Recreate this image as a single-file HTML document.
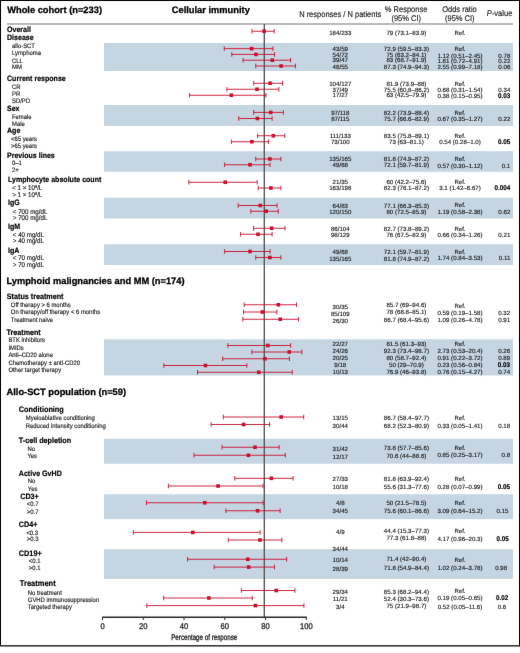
<!DOCTYPE html>
<html><head><meta charset="utf-8"><title>Forest plot</title>
<style>
html,body{margin:0;padding:0;background:#fff;}
body{width:520px;height:653px;overflow:hidden;}
svg{display:block;font-family:"Liberation Sans", sans-serif;-webkit-font-smoothing:antialiased;will-change:transform;text-rendering:geometricPrecision;}
</style></head>
<body>
<svg width="520" height="653" viewBox="0 0 520 653" font-family='"Liberation Sans", sans-serif'>
<defs><filter id="bl" color-interpolation-filters="sRGB" x="0" y="0" width="520" height="653" filterUnits="userSpaceOnUse"><feConvolveMatrix order="3" kernelMatrix="0.0028 0.0470 0.0028 0.0470 0.8008 0.0470 0.0028 0.0470 0.0028" edgeMode="duplicate"/></filter></defs>
<g filter="url(#bl)">
<rect width="520" height="653" fill="#fff"/>
<rect x="104" y="43" width="409" height="28.00" fill="#c5d5e2"/>
<rect x="104" y="105" width="409" height="21.00" fill="#c5d5e2"/>
<rect x="104" y="151.25" width="409" height="20.50" fill="#c5d5e2"/>
<rect x="104" y="197.75" width="409" height="20.75" fill="#c5d5e2"/>
<rect x="104" y="244.25" width="409" height="20.75" fill="#c5d5e2"/>
<rect x="104" y="339.3" width="409" height="36.20" fill="#c5d5e2"/>
<rect x="104" y="438.75" width="409" height="25.00" fill="#c5d5e2"/>
<rect x="104" y="494.25" width="409" height="24.95" fill="#c5d5e2"/>
<rect x="104" y="549.25" width="409" height="29.75" fill="#c5d5e2"/>
<rect x="7" y="23" width="506" height="2" fill="#bababa"/>
<text x="7.2" y="13.1" font-size="9.3" font-weight="bold" stroke="#000" stroke-width="0.28" fill="#000">Whole cohort (n=233)</text>
<text x="171.8" y="13.1" font-size="9.3" font-weight="bold" stroke="#000" stroke-width="0.28" fill="#000">Cellular immunity</text>
<text x="6.4" y="283.6" font-size="9.3" font-weight="bold" stroke="#000" stroke-width="0.28" fill="#000">Lymphoid malignancies and MM (n=174)</text>
<text x="6.5" y="395.3" font-size="9.3" font-weight="bold" stroke="#000" stroke-width="0.28" fill="#000">Allo-SCT population (n=59)</text>
<text x="340.2" y="16.8" font-size="7.5" stroke="#1a1a1a" stroke-width="0.14" text-anchor="middle" fill="#1a1a1a" transform="matrix(1 0 0 1.1 0 -1.680)">N responses / N patients</text>
<text x="406.1" y="11.5" font-size="7.5" stroke="#1a1a1a" stroke-width="0.14" text-anchor="middle" fill="#1a1a1a" transform="matrix(1 0 0 1.1 0 -1.150)">% Response</text>
<text x="406.2" y="21.1" font-size="7.5" stroke="#1a1a1a" stroke-width="0.14" text-anchor="middle" fill="#1a1a1a" transform="matrix(1 0 0 1.1 0 -2.110)">(95% CI)</text>
<text x="459.5" y="11.6" font-size="7.5" stroke="#1a1a1a" stroke-width="0.14" text-anchor="middle" fill="#1a1a1a" transform="matrix(1 0 0 1.1 0 -1.160)">Odds ratio</text>
<text x="459.8" y="21.1" font-size="7.5" stroke="#1a1a1a" stroke-width="0.14" text-anchor="middle" fill="#1a1a1a" transform="matrix(1 0 0 1.1 0 -2.110)">(95% CI)</text>
<text x="499.6" y="16.15" font-size="7.5" text-anchor="middle" fill="#1a1a1a" stroke="#1a1a1a" stroke-width="0.14" transform="matrix(1 0 0 1.1 0 -1.615)"><tspan font-style="italic">P</tspan>-value</text>
<text x="7" y="31.7" font-size="7.05" font-weight="bold" stroke="#000" stroke-width="0.16" fill="#000" transform="matrix(1 0 0 1.1 0 -3.170)">Overall</text>
<text x="7" y="39.6" font-size="7.05" font-weight="bold" stroke="#000" stroke-width="0.16" fill="#000" transform="matrix(1 0 0 1.1 0 -3.960)">Disease</text>
<text x="12" y="47.5" font-size="5.9" stroke="#1a1a1a" stroke-width="0.14" fill="#1a1a1a" transform="matrix(1 0 0 1.1 0 -4.750)">allo-SCT</text>
<text x="12" y="55.2" font-size="5.9" stroke="#1a1a1a" stroke-width="0.14" fill="#1a1a1a" transform="matrix(1 0 0 1.1 0 -5.520)">Lymphoma</text>
<text x="12" y="62.55" font-size="5.9" stroke="#1a1a1a" stroke-width="0.14" fill="#1a1a1a" transform="matrix(1 0 0 1.1 0 -6.255)">CLL</text>
<text x="12" y="69.3" font-size="5.9" stroke="#1a1a1a" stroke-width="0.14" fill="#1a1a1a" transform="matrix(1 0 0 1.1 0 -6.930)">MM</text>
<text x="7" y="81.3" font-size="7.05" font-weight="bold" stroke="#000" stroke-width="0.16" fill="#000" transform="matrix(1 0 0 1.1 0 -8.130)">Current response</text>
<text x="12" y="88.7" font-size="5.9" stroke="#1a1a1a" stroke-width="0.14" fill="#1a1a1a" transform="matrix(1 0 0 1.1 0 -8.870)">CR</text>
<text x="12" y="96.1" font-size="5.9" stroke="#1a1a1a" stroke-width="0.14" fill="#1a1a1a" transform="matrix(1 0 0 1.1 0 -9.610)">PR</text>
<text x="12" y="103.3" font-size="5.9" stroke="#1a1a1a" stroke-width="0.14" fill="#1a1a1a" transform="matrix(1 0 0 1.1 0 -10.330)">SD/PD</text>
<text x="7" y="111.3" font-size="7.05" font-weight="bold" stroke="#000" stroke-width="0.16" fill="#000" transform="matrix(1 0 0 1.1 0 -11.130)">Sex</text>
<text x="12" y="119.1" font-size="5.9" stroke="#1a1a1a" stroke-width="0.14" fill="#1a1a1a" transform="matrix(1 0 0 1.1 0 -11.910)">Female</text>
<text x="12" y="126.3" font-size="5.9" stroke="#1a1a1a" stroke-width="0.14" fill="#1a1a1a" transform="matrix(1 0 0 1.1 0 -12.630)">Male</text>
<text x="7" y="133.3" font-size="7.05" font-weight="bold" stroke="#000" stroke-width="0.16" fill="#000" transform="matrix(1 0 0 1.1 0 -13.330)">Age</text>
<text x="11" y="141.3" font-size="5.9" stroke="#1a1a1a" stroke-width="0.14" fill="#1a1a1a" transform="matrix(1 0 0 1.1 0 -14.130)">&lt;65 years</text>
<text x="11" y="148.1" font-size="5.9" stroke="#1a1a1a" stroke-width="0.14" fill="#1a1a1a" transform="matrix(1 0 0 1.1 0 -14.810)">&gt;65 years</text>
<text x="7" y="158.1" font-size="7.05" font-weight="bold" stroke="#000" stroke-width="0.16" fill="#000" transform="matrix(1 0 0 1.1 0 -15.810)">Previous lines</text>
<text x="12" y="164.9" font-size="5.9" stroke="#1a1a1a" stroke-width="0.14" fill="#1a1a1a" transform="matrix(1 0 0 1.1 0 -16.490)">0–1</text>
<text x="12" y="172.1" font-size="5.9" stroke="#1a1a1a" stroke-width="0.14" fill="#1a1a1a" transform="matrix(1 0 0 1.1 0 -17.210)">2+</text>
<text x="8" y="181.7" font-size="7.05" font-weight="bold" stroke="#000" stroke-width="0.16" fill="#000" transform="matrix(1 0 0 1.1 0 -18.170)">Lymphocyte absolute count</text>
<text x="12.2" y="190.4" font-size="6.2" stroke="#1a1a1a" stroke-width="0.14" fill="#1a1a1a" transform="matrix(1 0 0 1.1 0 -19.040)">&lt; 1 × 10<tspan dy="-2" font-size="4">9</tspan><tspan dy="2">/L</tspan></text>
<text x="12.2" y="197.3" font-size="6.2" stroke="#1a1a1a" stroke-width="0.14" fill="#1a1a1a" transform="matrix(1 0 0 1.1 0 -19.730)">&gt; 1 × 10<tspan dy="-2" font-size="4">9</tspan><tspan dy="2">/L</tspan></text>
<text x="8" y="205.3" font-size="7.05" font-weight="bold" stroke="#000" stroke-width="0.16" fill="#000" transform="matrix(1 0 0 1.1 0 -20.530)">IgG</text>
<text x="12.8" y="213.7" font-size="6.2" stroke="#1a1a1a" stroke-width="0.14" fill="#1a1a1a" transform="matrix(1 0 0 1.1 0 -21.370)">&lt; 700 mg/dL</text>
<text x="12.8" y="220.3" font-size="6.2" stroke="#1a1a1a" stroke-width="0.14" fill="#1a1a1a" transform="matrix(1 0 0 1.1 0 -22.030)">&gt; 700 mg/dL</text>
<text x="8" y="229.1" font-size="7.05" font-weight="bold" stroke="#000" stroke-width="0.16" fill="#000" transform="matrix(1 0 0 1.1 0 -22.910)">IgM</text>
<text x="12.8" y="236.7" font-size="6.2" stroke="#1a1a1a" stroke-width="0.14" fill="#1a1a1a" transform="matrix(1 0 0 1.1 0 -23.670)">&lt; 40 mg/dL</text>
<text x="12.8" y="243.3" font-size="6.2" stroke="#1a1a1a" stroke-width="0.14" fill="#1a1a1a" transform="matrix(1 0 0 1.1 0 -24.330)">&gt; 40 mg/dL</text>
<text x="8" y="252.7" font-size="7.05" font-weight="bold" stroke="#000" stroke-width="0.16" fill="#000" transform="matrix(1 0 0 1.1 0 -25.270)">IgA</text>
<text x="12.8" y="260.3" font-size="6.2" stroke="#1a1a1a" stroke-width="0.14" fill="#1a1a1a" transform="matrix(1 0 0 1.1 0 -26.030)">&lt; 70 mg/dL</text>
<text x="12.8" y="267.3" font-size="6.2" stroke="#1a1a1a" stroke-width="0.14" fill="#1a1a1a" transform="matrix(1 0 0 1.1 0 -26.730)">&gt; 70 mg/dL</text>
<text x="6.8" y="298.7" font-size="7.2" font-weight="bold" stroke="#000" stroke-width="0.16" fill="#000" transform="matrix(1 0 0 1.1 0 -29.870)">Status treatment</text>
<text x="10.8" y="306.7" font-size="5.9" stroke="#1a1a1a" stroke-width="0.14" fill="#1a1a1a" transform="matrix(1 0 0 1.1 0 -30.670)">Off therapy &gt; 6 months</text>
<text x="10.8" y="314.1" font-size="5.9" stroke="#1a1a1a" stroke-width="0.14" fill="#1a1a1a" transform="matrix(1 0 0 1.1 0 -31.410)">On therapy/off therapy &lt; 6 months</text>
<text x="10.8" y="321.7" font-size="5.9" stroke="#1a1a1a" stroke-width="0.14" fill="#1a1a1a" transform="matrix(1 0 0 1.1 0 -32.170)">Treatment naive</text>
<text x="6.6" y="334.7" font-size="7.15" font-weight="bold" stroke="#000" stroke-width="0.16" fill="#000" transform="matrix(1 0 0 1.1 0 -33.470)">Treatment</text>
<text x="8.4" y="342.3" font-size="5.9" stroke="#1a1a1a" stroke-width="0.14" fill="#1a1a1a" transform="matrix(1 0 0 1.1 0 -34.230)">BTK inhibitors</text>
<text x="8.4" y="349.7" font-size="5.9" stroke="#1a1a1a" stroke-width="0.14" fill="#1a1a1a" transform="matrix(1 0 0 1.1 0 -34.970)">IMIDs</text>
<text x="8.4" y="357.1" font-size="5.9" stroke="#1a1a1a" stroke-width="0.14" fill="#1a1a1a" transform="matrix(1 0 0 1.1 0 -35.710)">Anti–CD20 alone</text>
<text x="8.4" y="364.7" font-size="5.9" stroke="#1a1a1a" stroke-width="0.14" fill="#1a1a1a" transform="matrix(1 0 0 1.1 0 -36.470)">Chemotherapy ± anti-CD20</text>
<text x="8.4" y="372.3" font-size="5.9" stroke="#1a1a1a" stroke-width="0.14" fill="#1a1a1a" transform="matrix(1 0 0 1.1 0 -37.230)">Other target therapy</text>
<text x="18.8" y="411.7" font-size="7.3" font-weight="bold" stroke="#000" stroke-width="0.16" fill="#000" transform="matrix(1 0 0 1.1 0 -41.170)">Conditioning</text>
<text x="25.8" y="420.1" font-size="5.9" stroke="#1a1a1a" stroke-width="0.14" fill="#1a1a1a" transform="matrix(1 0 0 1.1 0 -42.010)">Myeloablative conditioning</text>
<text x="25.8" y="427.7" font-size="5.9" stroke="#1a1a1a" stroke-width="0.14" fill="#1a1a1a" transform="matrix(1 0 0 1.1 0 -42.770)">Reduced intensity conditioning</text>
<text x="18.8" y="443.1" font-size="7.2" font-weight="bold" stroke="#000" stroke-width="0.16" fill="#000" transform="matrix(1 0 0 1.1 0 -44.310)">T-cell depletion</text>
<text x="27.4" y="450.7" font-size="5.9" stroke="#1a1a1a" stroke-width="0.14" fill="#1a1a1a" transform="matrix(1 0 0 1.1 0 -45.070)">No</text>
<text x="27.4" y="457.7" font-size="5.9" stroke="#1a1a1a" stroke-width="0.14" fill="#1a1a1a" transform="matrix(1 0 0 1.1 0 -45.770)">Yes</text>
<text x="18.8" y="475.7" font-size="7.1" font-weight="bold" stroke="#000" stroke-width="0.16" fill="#000" transform="matrix(1 0 0 1.1 0 -47.570)">Active GvHD</text>
<text x="27.8" y="483.1" font-size="5.9" stroke="#1a1a1a" stroke-width="0.14" fill="#1a1a1a" transform="matrix(1 0 0 1.1 0 -48.310)">No</text>
<text x="27.8" y="490.7" font-size="5.9" stroke="#1a1a1a" stroke-width="0.14" fill="#1a1a1a" transform="matrix(1 0 0 1.1 0 -49.070)">Yes</text>
<text x="20.2" y="499.3" font-size="7.2" font-weight="bold" stroke="#000" stroke-width="0.16" fill="#000" transform="matrix(1 0 0 1.1 0 -49.930)">CD3+</text>
<text x="26.8" y="506.3" font-size="5.9" stroke="#1a1a1a" stroke-width="0.14" fill="#1a1a1a" transform="matrix(1 0 0 1.1 0 -50.630)">&lt;0.7</text>
<text x="26.8" y="513.7" font-size="5.9" stroke="#1a1a1a" stroke-width="0.14" fill="#1a1a1a" transform="matrix(1 0 0 1.1 0 -51.370)">&gt;0.7</text>
<text x="18.8" y="526.7" font-size="7.2" font-weight="bold" stroke="#000" stroke-width="0.16" fill="#000" transform="matrix(1 0 0 1.1 0 -52.670)">CD4+</text>
<text x="26.4" y="534.7" font-size="5.9" stroke="#1a1a1a" stroke-width="0.14" fill="#1a1a1a" transform="matrix(1 0 0 1.1 0 -53.470)">&lt;0.3</text>
<text x="26.8" y="541.3" font-size="5.9" stroke="#1a1a1a" stroke-width="0.14" fill="#1a1a1a" transform="matrix(1 0 0 1.1 0 -54.130)">&gt;0.3</text>
<text x="18.8" y="555.5" font-size="7.3" font-weight="bold" stroke="#000" stroke-width="0.16" fill="#000" transform="matrix(1 0 0 1.1 0 -55.550)">CD19+</text>
<text x="28.8" y="563.1" font-size="5.9" stroke="#1a1a1a" stroke-width="0.14" fill="#1a1a1a" transform="matrix(1 0 0 1.1 0 -56.310)">&lt;0.1</text>
<text x="28.8" y="570.1" font-size="5.9" stroke="#1a1a1a" stroke-width="0.14" fill="#1a1a1a" transform="matrix(1 0 0 1.1 0 -57.010)">&gt;0.1</text>
<text x="19.8" y="586.3" font-size="7.5" font-weight="bold" stroke="#000" stroke-width="0.16" fill="#000" transform="matrix(1 0 0 1.1 0 -58.630)">Treatment</text>
<text x="27.8" y="595.1" font-size="5.9" stroke="#1a1a1a" stroke-width="0.14" fill="#1a1a1a" transform="matrix(1 0 0 1.1 0 -59.510)">No treatment</text>
<text x="27.8" y="602.3" font-size="5.9" stroke="#1a1a1a" stroke-width="0.14" fill="#1a1a1a" transform="matrix(1 0 0 1.1 0 -60.230)">GVHD immunosuppression</text>
<text x="27.8" y="608.7" font-size="5.9" stroke="#1a1a1a" stroke-width="0.14" fill="#1a1a1a" transform="matrix(1 0 0 1.1 0 -60.870)">Targeted therapy</text>
<rect x="263.6" y="24" width="1.4" height="593.5" fill="#5a5a5a"/>
<path d="M252.06 31.25H274.16M252.06 28.95v4.6M274.16 28.95v4.6" stroke="#c8102e" stroke-width="0.9" fill="none"/>
<rect x="262.33" y="29.45" width="3.6" height="3.6" fill="#c8102e"/>
<path d="M224.24 48.65H272.93M224.24 46.35v4.6M272.93 46.35v4.6" stroke="#c8102e" stroke-width="0.9" fill="none"/>
<rect x="249.85" y="46.85" width="3.6" height="3.6" fill="#c8102e"/>
<path d="M231.81 54.4H274.57M231.81 52.10v4.6M274.57 52.10v4.6" stroke="#c8102e" stroke-width="0.9" fill="none"/>
<rect x="254.15" y="52.60" width="3.6" height="3.6" fill="#c8102e"/>
<path d="M243.06 60.2H290.53M243.06 57.90v4.6M290.53 57.90v4.6" stroke="#c8102e" stroke-width="0.9" fill="none"/>
<rect x="270.52" y="58.40" width="3.6" height="3.6" fill="#c8102e"/>
<path d="M255.75 66.0H295.44M255.75 63.70v4.6M295.44 63.70v4.6" stroke="#c8102e" stroke-width="0.9" fill="none"/>
<rect x="279.32" y="64.20" width="3.6" height="3.6" fill="#c8102e"/>
<path d="M253.70 83.25H282.55M253.70 80.95v4.6M282.55 80.95v4.6" stroke="#c8102e" stroke-width="0.9" fill="none"/>
<rect x="268.27" y="81.45" width="3.6" height="3.6" fill="#c8102e"/>
<path d="M226.90 89.25H278.87M226.90 86.95v4.6M278.87 86.95v4.6" stroke="#c8102e" stroke-width="0.9" fill="none"/>
<rect x="255.17" y="87.45" width="3.6" height="3.6" fill="#c8102e"/>
<path d="M189.45 95.25H265.98M189.45 92.95v4.6M265.98 92.95v4.6" stroke="#c8102e" stroke-width="0.9" fill="none"/>
<rect x="229.60" y="93.45" width="3.6" height="3.6" fill="#c8102e"/>
<path d="M253.70 112.4H283.37M253.70 110.10v4.6M283.37 110.10v4.6" stroke="#c8102e" stroke-width="0.9" fill="none"/>
<rect x="268.88" y="110.60" width="3.6" height="3.6" fill="#c8102e"/>
<path d="M238.76 118.5H272.11M238.76 116.20v4.6M272.11 116.20v4.6" stroke="#c8102e" stroke-width="0.9" fill="none"/>
<rect x="255.58" y="116.70" width="3.6" height="3.6" fill="#c8102e"/>
<path d="M257.59 135.75H284.80M257.59 133.45v4.6M284.80 133.45v4.6" stroke="#c8102e" stroke-width="0.9" fill="none"/>
<rect x="271.54" y="133.95" width="3.6" height="3.6" fill="#c8102e"/>
<path d="M231.40 141.75H268.43M231.40 139.45v4.6M268.43 139.45v4.6" stroke="#c8102e" stroke-width="0.9" fill="none"/>
<rect x="250.06" y="139.95" width="3.6" height="3.6" fill="#c8102e"/>
<path d="M255.75 159H280.91M255.75 156.70v4.6M280.91 156.70v4.6" stroke="#c8102e" stroke-width="0.9" fill="none"/>
<rect x="268.06" y="157.20" width="3.6" height="3.6" fill="#c8102e"/>
<path d="M224.65 164.75H270.07M224.65 162.45v4.6M270.07 162.45v4.6" stroke="#c8102e" stroke-width="0.9" fill="none"/>
<rect x="248.22" y="162.95" width="3.6" height="3.6" fill="#c8102e"/>
<path d="M188.84 182.25H257.18M188.84 179.95v4.6M257.18 179.95v4.6" stroke="#c8102e" stroke-width="0.9" fill="none"/>
<rect x="223.46" y="180.45" width="3.6" height="3.6" fill="#c8102e"/>
<path d="M258.20 188H280.91M258.20 185.70v4.6M280.91 185.70v4.6" stroke="#c8102e" stroke-width="0.9" fill="none"/>
<rect x="269.09" y="186.20" width="3.6" height="3.6" fill="#c8102e"/>
<path d="M238.15 205.5H277.02M238.15 203.20v4.6M277.02 203.20v4.6" stroke="#c8102e" stroke-width="0.9" fill="none"/>
<rect x="258.45" y="203.70" width="3.6" height="3.6" fill="#c8102e"/>
<path d="M250.83 211.25H278.25M250.83 208.95v4.6M278.25 208.95v4.6" stroke="#c8102e" stroke-width="0.9" fill="none"/>
<rect x="264.38" y="209.45" width="3.6" height="3.6" fill="#c8102e"/>
<path d="M253.49 228.25H285.00M253.49 225.95v4.6M285.00 225.95v4.6" stroke="#c8102e" stroke-width="0.9" fill="none"/>
<rect x="269.90" y="226.45" width="3.6" height="3.6" fill="#c8102e"/>
<path d="M240.60 234.25H272.11M240.60 231.95v4.6M272.11 231.95v4.6" stroke="#c8102e" stroke-width="0.9" fill="none"/>
<rect x="256.20" y="232.45" width="3.6" height="3.6" fill="#c8102e"/>
<path d="M224.65 251.5H270.07M224.65 249.20v4.6M270.07 249.20v4.6" stroke="#c8102e" stroke-width="0.9" fill="none"/>
<rect x="248.22" y="249.70" width="3.6" height="3.6" fill="#c8102e"/>
<path d="M255.75 257.5H280.91M255.75 255.20v4.6M280.91 255.20v4.6" stroke="#c8102e" stroke-width="0.9" fill="none"/>
<rect x="268.06" y="255.70" width="3.6" height="3.6" fill="#c8102e"/>
<path d="M244.17 304.75H296.55M244.17 302.45v4.6M296.55 302.45v4.6" stroke="#c8102e" stroke-width="0.9" fill="none"/>
<rect x="276.54" y="302.95" width="3.6" height="3.6" fill="#c8102e"/>
<path d="M243.56 312H276.91M243.56 309.70v4.6M276.91 309.70v4.6" stroke="#c8102e" stroke-width="0.9" fill="none"/>
<rect x="260.59" y="310.20" width="3.6" height="3.6" fill="#c8102e"/>
<path d="M242.85 319.25H298.50M242.85 316.95v4.6M298.50 316.95v4.6" stroke="#c8102e" stroke-width="0.9" fill="none"/>
<rect x="278.49" y="317.45" width="3.6" height="3.6" fill="#c8102e"/>
<path d="M227.84 345.5H290.63M227.84 343.20v4.6M290.63 343.20v4.6" stroke="#c8102e" stroke-width="0.9" fill="none"/>
<rect x="266.05" y="343.70" width="3.6" height="3.6" fill="#c8102e"/>
<path d="M251.81 352H301.92M251.81 349.70v4.6M301.92 349.70v4.6" stroke="#c8102e" stroke-width="0.9" fill="none"/>
<rect x="287.45" y="350.20" width="3.6" height="3.6" fill="#c8102e"/>
<path d="M222.68 358.75H289.44M222.68 356.45v4.6M289.44 356.45v4.6" stroke="#c8102e" stroke-width="0.9" fill="none"/>
<rect x="263.08" y="356.95" width="3.6" height="3.6" fill="#c8102e"/>
<path d="M163.85 365.5H246.85M163.85 363.20v4.6M246.85 363.20v4.6" stroke="#c8102e" stroke-width="0.9" fill="none"/>
<rect x="203.65" y="363.70" width="3.6" height="3.6" fill="#c8102e"/>
<path d="M197.53 372.25H292.22M197.53 369.95v4.6M292.22 369.95v4.6" stroke="#c8102e" stroke-width="0.9" fill="none"/>
<rect x="256.94" y="370.45" width="3.6" height="3.6" fill="#c8102e"/>
<path d="M223.29 417H303.69M223.29 414.70v4.6M303.69 414.70v4.6" stroke="#c8102e" stroke-width="0.9" fill="none"/>
<rect x="279.39" y="415.20" width="3.6" height="3.6" fill="#c8102e"/>
<path d="M211.11 424.5H269.62M211.11 422.20v4.6M269.62 422.20v4.6" stroke="#c8102e" stroke-width="0.9" fill="none"/>
<rect x="241.84" y="422.70" width="3.6" height="3.6" fill="#c8102e"/>
<path d="M222.05 447.25H279.14M222.05 444.95v4.6M279.14 444.95v4.6" stroke="#c8102e" stroke-width="0.9" fill="none"/>
<rect x="253.19" y="445.45" width="3.6" height="3.6" fill="#c8102e"/>
<path d="M194.02 455.25H285.28M194.02 452.95v4.6M285.28 452.95v4.6" stroke="#c8102e" stroke-width="0.9" fill="none"/>
<rect x="246.65" y="453.45" width="3.6" height="3.6" fill="#c8102e"/>
<path d="M234.74 478.3H293.05M234.74 476.00v4.6M293.05 476.00v4.6" stroke="#c8102e" stroke-width="0.9" fill="none"/>
<rect x="269.56" y="476.50" width="3.6" height="3.6" fill="#c8102e"/>
<path d="M168.34 486H263.07M168.34 483.70v4.6M263.07 483.70v4.6" stroke="#c8102e" stroke-width="0.9" fill="none"/>
<rect x="216.26" y="484.20" width="3.6" height="3.6" fill="#c8102e"/>
<path d="M146.49 502.75H263.11M146.49 500.45v4.6M263.11 500.45v4.6" stroke="#c8102e" stroke-width="0.9" fill="none"/>
<rect x="203.00" y="500.95" width="3.6" height="3.6" fill="#c8102e"/>
<path d="M225.86 510.75H280.08M225.86 508.45v4.6M280.08 508.45v4.6" stroke="#c8102e" stroke-width="0.9" fill="none"/>
<rect x="255.78" y="508.95" width="3.6" height="3.6" fill="#c8102e"/>
<path d="M133.30 532.4H260.16M133.30 530.10v4.6M260.16 530.10v4.6" stroke="#c8102e" stroke-width="0.9" fill="none"/>
<rect x="191.04" y="530.60" width="3.6" height="3.6" fill="#c8102e"/>
<path d="M228.24 540H281.85M228.24 537.70v4.6M281.85 537.70v4.6" stroke="#c8102e" stroke-width="0.9" fill="none"/>
<rect x="258.16" y="538.20" width="3.6" height="3.6" fill="#c8102e"/>
<path d="M187.63 559.25H286.66M187.63 556.95v4.6M286.66 556.95v4.6" stroke="#c8102e" stroke-width="0.9" fill="none"/>
<rect x="245.98" y="557.45" width="3.6" height="3.6" fill="#c8102e"/>
<path d="M214.13 567.1H274.48M214.13 564.80v4.6M274.48 564.80v4.6" stroke="#c8102e" stroke-width="0.9" fill="none"/>
<rect x="246.90" y="565.30" width="3.6" height="3.6" fill="#c8102e"/>
<path d="M241.34 590.5H294.94M241.34 588.20v4.6M294.94 588.20v4.6" stroke="#c8102e" stroke-width="0.9" fill="none"/>
<rect x="274.52" y="588.70" width="3.6" height="3.6" fill="#c8102e"/>
<path d="M163.69 598H252.29M163.69 595.70v4.6M252.29 595.70v4.6" stroke="#c8102e" stroke-width="0.9" fill="none"/>
<rect x="207.11" y="596.20" width="3.6" height="3.6" fill="#c8102e"/>
<path d="M146.81 605.6H303.94M146.81 603.30v4.6M303.94 603.30v4.6" stroke="#c8102e" stroke-width="0.9" fill="none"/>
<rect x="253.65" y="603.80" width="3.6" height="3.6" fill="#c8102e"/>
<text x="340.3" y="34.6" font-size="6.15" stroke="#1a1a1a" stroke-width="0.14" text-anchor="middle" fill="#1a1a1a">184/233</text>
<text x="406.4" y="34.6" font-size="6.15" stroke="#1a1a1a" stroke-width="0.14" text-anchor="middle" fill="#1a1a1a">79 (73.1–83.9)</text>
<text x="460.0" y="34.6" font-size="6.0" stroke="#1a1a1a" stroke-width="0.14" text-anchor="middle" fill="#1a1a1a">Ref.</text>
<text x="340.3" y="51.35" font-size="6.15" stroke="#1a1a1a" stroke-width="0.14" text-anchor="middle" fill="#1a1a1a">43/59</text>
<text x="406.4" y="51.35" font-size="6.15" stroke="#1a1a1a" stroke-width="0.14" text-anchor="middle" fill="#1a1a1a">72.9 (59.5–83.3)</text>
<text x="460.0" y="51.0" font-size="6.0" stroke="#1a1a1a" stroke-width="0.14" text-anchor="middle" fill="#1a1a1a">Ref.</text>
<text x="340.3" y="57.0" font-size="6.15" stroke="#1a1a1a" stroke-width="0.14" text-anchor="middle" fill="#1a1a1a">54/72</text>
<text x="406.4" y="57.0" font-size="6.15" stroke="#1a1a1a" stroke-width="0.14" text-anchor="middle" fill="#1a1a1a">75 (63.2–84.1)</text>
<text x="460.0" y="57.6" font-size="6.15" stroke="#1a1a1a" stroke-width="0.14" text-anchor="middle" fill="#1a1a1a">1.12 (0.51–2.45)</text>
<text x="510.3" y="57.6" font-size="6.15" stroke="#1a1a1a" stroke-width="0.14" text-anchor="end" fill="#1a1a1a">0.78</text>
<text x="340.3" y="62.35" font-size="6.15" stroke="#1a1a1a" stroke-width="0.14" text-anchor="middle" fill="#1a1a1a">39/47</text>
<text x="406.4" y="62.35" font-size="6.15" stroke="#1a1a1a" stroke-width="0.14" text-anchor="middle" fill="#1a1a1a">83 (68.7–91.9)</text>
<text x="460.0" y="63.15" font-size="6.15" stroke="#1a1a1a" stroke-width="0.14" text-anchor="middle" fill="#1a1a1a">1.81 (0.72–4.91)</text>
<text x="510.3" y="63.15" font-size="6.15" stroke="#1a1a1a" stroke-width="0.14" text-anchor="end" fill="#1a1a1a">0.22</text>
<text x="340.3" y="69.0" font-size="6.15" stroke="#1a1a1a" stroke-width="0.14" text-anchor="middle" fill="#1a1a1a">48/55</text>
<text x="406.4" y="69.0" font-size="6.15" stroke="#1a1a1a" stroke-width="0.14" text-anchor="middle" fill="#1a1a1a">87.3 (74.9–94.3)</text>
<text x="460.0" y="68.9" font-size="6.15" stroke="#1a1a1a" stroke-width="0.14" text-anchor="middle" fill="#1a1a1a">2.55 (0.99–7.18)</text>
<text x="510.3" y="68.9" font-size="6.15" stroke="#1a1a1a" stroke-width="0.14" text-anchor="end" fill="#1a1a1a">0.06</text>
<text x="340.3" y="86.1" font-size="6.15" stroke="#1a1a1a" stroke-width="0.14" text-anchor="middle" fill="#1a1a1a">104/127</text>
<text x="406.4" y="86.1" font-size="6.15" stroke="#1a1a1a" stroke-width="0.14" text-anchor="middle" fill="#1a1a1a">81.9 (73.9–88)</text>
<text x="460.0" y="85.5" font-size="6.0" stroke="#1a1a1a" stroke-width="0.14" text-anchor="middle" fill="#1a1a1a">Ref.</text>
<text x="340.3" y="91.85" font-size="6.15" stroke="#1a1a1a" stroke-width="0.14" text-anchor="middle" fill="#1a1a1a">37/49</text>
<text x="406.4" y="91.85" font-size="6.15" stroke="#1a1a1a" stroke-width="0.14" text-anchor="middle" fill="#1a1a1a">75.5 (60.8–86.2)</text>
<text x="460.0" y="92.0" font-size="6.15" stroke="#1a1a1a" stroke-width="0.14" text-anchor="middle" fill="#1a1a1a">0.68 (0.31–1.54)</text>
<text x="510.3" y="92.0" font-size="6.15" stroke="#1a1a1a" stroke-width="0.14" text-anchor="end" fill="#1a1a1a">0.34</text>
<text x="340.3" y="97.35" font-size="6.15" stroke="#1a1a1a" stroke-width="0.14" text-anchor="middle" fill="#1a1a1a">17/27</text>
<text x="406.4" y="97.35" font-size="6.15" stroke="#1a1a1a" stroke-width="0.14" text-anchor="middle" fill="#1a1a1a">63 (42.5–79.9)</text>
<text x="460.0" y="97.75" font-size="6.15" stroke="#1a1a1a" stroke-width="0.14" text-anchor="middle" fill="#1a1a1a">0.38 (0.15–0.95)</text>
<text x="510.3" y="97.75" font-size="6.3" font-weight="bold" text-anchor="end" fill="#000" stroke="#000" stroke-width="0.15" transform="matrix(1 0 0 1.1 0 -9.775)">0.03</text>
<text x="340.3" y="114.85" font-size="6.15" stroke="#1a1a1a" stroke-width="0.14" text-anchor="middle" fill="#1a1a1a">97/118</text>
<text x="406.4" y="114.85" font-size="6.15" stroke="#1a1a1a" stroke-width="0.14" text-anchor="middle" fill="#1a1a1a">82.2 (73.9–88.4)</text>
<text x="460.0" y="114.5" font-size="6.0" stroke="#1a1a1a" stroke-width="0.14" text-anchor="middle" fill="#1a1a1a">Ref.</text>
<text x="340.3" y="121.1" font-size="6.15" stroke="#1a1a1a" stroke-width="0.14" text-anchor="middle" fill="#1a1a1a">87/115</text>
<text x="406.4" y="121.1" font-size="6.15" stroke="#1a1a1a" stroke-width="0.14" text-anchor="middle" fill="#1a1a1a">75.7 (66.6–82.9)</text>
<text x="460.0" y="120.9" font-size="6.15" stroke="#1a1a1a" stroke-width="0.14" text-anchor="middle" fill="#1a1a1a">0.67 (0.35–1.27)</text>
<text x="510.3" y="120.9" font-size="6.15" stroke="#1a1a1a" stroke-width="0.14" text-anchor="end" fill="#1a1a1a">0.22</text>
<text x="340.3" y="138.1" font-size="6.15" stroke="#1a1a1a" stroke-width="0.14" text-anchor="middle" fill="#1a1a1a">111/133</text>
<text x="406.4" y="138.1" font-size="6.15" stroke="#1a1a1a" stroke-width="0.14" text-anchor="middle" fill="#1a1a1a">83.5 (75.8–89.1)</text>
<text x="460.0" y="138.1" font-size="6.0" stroke="#1a1a1a" stroke-width="0.14" text-anchor="middle" fill="#1a1a1a">Ref.</text>
<text x="340.3" y="144.35" font-size="6.15" stroke="#1a1a1a" stroke-width="0.14" text-anchor="middle" fill="#1a1a1a">73/100</text>
<text x="406.4" y="144.35" font-size="6.15" stroke="#1a1a1a" stroke-width="0.14" text-anchor="middle" fill="#1a1a1a">73 (63–81.1)</text>
<text x="460.0" y="144.3" font-size="6.15" stroke="#1a1a1a" stroke-width="0.14" text-anchor="middle" fill="#1a1a1a">0.54 (0.28–1.0)</text>
<text x="510.3" y="144.3" font-size="6.3" font-weight="bold" text-anchor="end" fill="#000" stroke="#000" stroke-width="0.15" transform="matrix(1 0 0 1.1 0 -14.430)">0.05</text>
<text x="340.3" y="161.1" font-size="6.15" stroke="#1a1a1a" stroke-width="0.14" text-anchor="middle" fill="#1a1a1a">135/165</text>
<text x="406.4" y="161.1" font-size="6.15" stroke="#1a1a1a" stroke-width="0.14" text-anchor="middle" fill="#1a1a1a">81.8 (74.9–87.2)</text>
<text x="460.0" y="161.1" font-size="6.0" stroke="#1a1a1a" stroke-width="0.14" text-anchor="middle" fill="#1a1a1a">Ref.</text>
<text x="340.3" y="166.85" font-size="6.15" stroke="#1a1a1a" stroke-width="0.14" text-anchor="middle" fill="#1a1a1a">49/68</text>
<text x="406.4" y="166.85" font-size="6.15" stroke="#1a1a1a" stroke-width="0.14" text-anchor="middle" fill="#1a1a1a">72.1 (59.7–81.9)</text>
<text x="460.0" y="167.6" font-size="6.15" stroke="#1a1a1a" stroke-width="0.14" text-anchor="middle" fill="#1a1a1a">0.57 (0.30–1.12)</text>
<text x="510.3" y="167.6" font-size="6.15" stroke="#1a1a1a" stroke-width="0.14" text-anchor="end" fill="#1a1a1a">0.1</text>
<text x="340.3" y="183.85" font-size="6.15" stroke="#1a1a1a" stroke-width="0.14" text-anchor="middle" fill="#1a1a1a">21/35</text>
<text x="406.4" y="183.85" font-size="6.15" stroke="#1a1a1a" stroke-width="0.14" text-anchor="middle" fill="#1a1a1a">60 (42.2–75.6)</text>
<text x="460.0" y="183.9" font-size="6.0" stroke="#1a1a1a" stroke-width="0.14" text-anchor="middle" fill="#1a1a1a">Ref.</text>
<text x="340.3" y="189.85" font-size="6.15" stroke="#1a1a1a" stroke-width="0.14" text-anchor="middle" fill="#1a1a1a">163/198</text>
<text x="406.4" y="189.85" font-size="6.15" stroke="#1a1a1a" stroke-width="0.14" text-anchor="middle" fill="#1a1a1a">82.3 (76.1–87.2)</text>
<text x="460.0" y="190.3" font-size="6.15" stroke="#1a1a1a" stroke-width="0.14" text-anchor="middle" fill="#1a1a1a">3.1 (1.42–6.67)</text>
<text x="510.3" y="190.3" font-size="6.3" font-weight="bold" text-anchor="end" fill="#000" stroke="#000" stroke-width="0.15" transform="matrix(1 0 0 1.1 0 -19.030)">0.004</text>
<text x="340.3" y="207.6" font-size="6.15" stroke="#1a1a1a" stroke-width="0.14" text-anchor="middle" fill="#1a1a1a">64/83</text>
<text x="406.4" y="207.6" font-size="6.15" stroke="#1a1a1a" stroke-width="0.14" text-anchor="middle" fill="#1a1a1a">77.1 (66.3–85.3)</text>
<text x="460.0" y="207.1" font-size="6.0" stroke="#1a1a1a" stroke-width="0.14" text-anchor="middle" fill="#1a1a1a">Ref.</text>
<text x="340.3" y="213.85" font-size="6.15" stroke="#1a1a1a" stroke-width="0.14" text-anchor="middle" fill="#1a1a1a">120/150</text>
<text x="406.4" y="213.85" font-size="6.15" stroke="#1a1a1a" stroke-width="0.14" text-anchor="middle" fill="#1a1a1a">80 (72.5–85.9)</text>
<text x="460.0" y="213.7" font-size="6.15" stroke="#1a1a1a" stroke-width="0.14" text-anchor="middle" fill="#1a1a1a">1.19 (0.58–2.38)</text>
<text x="510.3" y="213.7" font-size="6.15" stroke="#1a1a1a" stroke-width="0.14" text-anchor="end" fill="#1a1a1a">0.62</text>
<text x="340.3" y="231.1" font-size="6.15" stroke="#1a1a1a" stroke-width="0.14" text-anchor="middle" fill="#1a1a1a">86/104</text>
<text x="406.4" y="231.1" font-size="6.15" stroke="#1a1a1a" stroke-width="0.14" text-anchor="middle" fill="#1a1a1a">82.7 (73.8–89.2)</text>
<text x="460.0" y="230.5" font-size="6.0" stroke="#1a1a1a" stroke-width="0.14" text-anchor="middle" fill="#1a1a1a">Ref.</text>
<text x="340.3" y="237.35" font-size="6.15" stroke="#1a1a1a" stroke-width="0.14" text-anchor="middle" fill="#1a1a1a">98/129</text>
<text x="406.4" y="237.35" font-size="6.15" stroke="#1a1a1a" stroke-width="0.14" text-anchor="middle" fill="#1a1a1a">76 (67.5–82.9)</text>
<text x="460.0" y="236.5" font-size="6.15" stroke="#1a1a1a" stroke-width="0.14" text-anchor="middle" fill="#1a1a1a">0.66 (0.34–1.26)</text>
<text x="510.3" y="236.5" font-size="6.15" stroke="#1a1a1a" stroke-width="0.14" text-anchor="end" fill="#1a1a1a">0.21</text>
<text x="340.3" y="254.35" font-size="6.15" stroke="#1a1a1a" stroke-width="0.14" text-anchor="middle" fill="#1a1a1a">49/68</text>
<text x="406.4" y="254.35" font-size="6.15" stroke="#1a1a1a" stroke-width="0.14" text-anchor="middle" fill="#1a1a1a">72.1 (59.7–81.9)</text>
<text x="460.0" y="253.8" font-size="6.0" stroke="#1a1a1a" stroke-width="0.14" text-anchor="middle" fill="#1a1a1a">Ref.</text>
<text x="340.3" y="260.6" font-size="6.15" stroke="#1a1a1a" stroke-width="0.14" text-anchor="middle" fill="#1a1a1a">135/165</text>
<text x="406.4" y="260.6" font-size="6.15" stroke="#1a1a1a" stroke-width="0.14" text-anchor="middle" fill="#1a1a1a">81.8 (74.9–87.2)</text>
<text x="460.0" y="260.1" font-size="6.15" stroke="#1a1a1a" stroke-width="0.14" text-anchor="middle" fill="#1a1a1a">1.74 (0.84–3.53)</text>
<text x="510.3" y="260.1" font-size="6.15" stroke="#1a1a1a" stroke-width="0.14" text-anchor="end" fill="#1a1a1a">0.11</text>
<text x="340.3" y="308.6" font-size="6.15" stroke="#1a1a1a" stroke-width="0.14" text-anchor="middle" fill="#1a1a1a">30/35</text>
<text x="406.4" y="307.1" font-size="6.15" stroke="#1a1a1a" stroke-width="0.14" text-anchor="middle" fill="#1a1a1a">85.7 (69–94.6)</text>
<text x="460.0" y="307.7" font-size="6.0" stroke="#1a1a1a" stroke-width="0.14" text-anchor="middle" fill="#1a1a1a">Ref.</text>
<text x="340.3" y="315.6" font-size="6.15" stroke="#1a1a1a" stroke-width="0.14" text-anchor="middle" fill="#1a1a1a">85/109</text>
<text x="406.4" y="314.35" font-size="6.15" stroke="#1a1a1a" stroke-width="0.14" text-anchor="middle" fill="#1a1a1a">78 (68.8–85.1)</text>
<text x="460.0" y="314.6" font-size="6.15" stroke="#1a1a1a" stroke-width="0.14" text-anchor="middle" fill="#1a1a1a">0.59 (0.19–1.58)</text>
<text x="510.1" y="314.6" font-size="6.15" stroke="#1a1a1a" stroke-width="0.14" text-anchor="end" fill="#1a1a1a">0.32</text>
<text x="340.3" y="323.1" font-size="6.15" stroke="#1a1a1a" stroke-width="0.14" text-anchor="middle" fill="#1a1a1a">26/30</text>
<text x="406.4" y="321.85" font-size="6.15" stroke="#1a1a1a" stroke-width="0.14" text-anchor="middle" fill="#1a1a1a">86.7 (68.4–95.6)</text>
<text x="460.0" y="321.9" font-size="6.15" stroke="#1a1a1a" stroke-width="0.14" text-anchor="middle" fill="#1a1a1a">1.09 (0.26–4.78)</text>
<text x="510.1" y="321.9" font-size="6.15" stroke="#1a1a1a" stroke-width="0.14" text-anchor="end" fill="#1a1a1a">0.91</text>
<text x="340.3" y="346.1" font-size="6.15" stroke="#1a1a1a" stroke-width="0.14" text-anchor="middle" fill="#1a1a1a">22/27</text>
<text x="406.4" y="346.1" font-size="6.15" stroke="#1a1a1a" stroke-width="0.14" text-anchor="middle" fill="#1a1a1a">81.5 (61.3–93)</text>
<text x="460.0" y="346.0" font-size="6.0" stroke="#1a1a1a" stroke-width="0.14" text-anchor="middle" fill="#1a1a1a">Ref.</text>
<text x="340.3" y="353.3" font-size="6.15" stroke="#1a1a1a" stroke-width="0.14" text-anchor="middle" fill="#1a1a1a">24/26</text>
<text x="406.4" y="353.1" font-size="6.15" stroke="#1a1a1a" stroke-width="0.14" text-anchor="middle" fill="#1a1a1a">92.3 (73.4–98.7)</text>
<text x="460.0" y="353.25" font-size="6.15" stroke="#1a1a1a" stroke-width="0.14" text-anchor="middle" fill="#1a1a1a">2.73 (0.53–20.4)</text>
<text x="510.1" y="353.25" font-size="6.15" stroke="#1a1a1a" stroke-width="0.14" text-anchor="end" fill="#1a1a1a">0.26</text>
<text x="340.3" y="360.2" font-size="6.15" stroke="#1a1a1a" stroke-width="0.14" text-anchor="middle" fill="#1a1a1a">20/25</text>
<text x="406.4" y="359.85" font-size="6.15" stroke="#1a1a1a" stroke-width="0.14" text-anchor="middle" fill="#1a1a1a">80 (58.7–92.4)</text>
<text x="460.0" y="360.2" font-size="6.15" stroke="#1a1a1a" stroke-width="0.14" text-anchor="middle" fill="#1a1a1a">0.91 (0.22–3.72)</text>
<text x="510.1" y="360.2" font-size="6.15" stroke="#1a1a1a" stroke-width="0.14" text-anchor="end" fill="#1a1a1a">0.89</text>
<text x="340.3" y="367.2" font-size="6.15" stroke="#1a1a1a" stroke-width="0.14" text-anchor="middle" fill="#1a1a1a">9/18</text>
<text x="406.4" y="366.85" font-size="6.15" stroke="#1a1a1a" stroke-width="0.14" text-anchor="middle" fill="#1a1a1a">50 (29–70.9)</text>
<text x="460.0" y="367.3" font-size="6.15" stroke="#1a1a1a" stroke-width="0.14" text-anchor="middle" fill="#1a1a1a">0.23 (0.56–0.84)</text>
<text x="510.1" y="367.3" font-size="6.3" font-weight="bold" text-anchor="end" fill="#000" stroke="#000" stroke-width="0.15" transform="matrix(1 0 0 1.1 0 -36.730)">0.03</text>
<text x="340.3" y="374.0" font-size="6.15" stroke="#1a1a1a" stroke-width="0.14" text-anchor="middle" fill="#1a1a1a">10/13</text>
<text x="406.4" y="373.6" font-size="6.15" stroke="#1a1a1a" stroke-width="0.14" text-anchor="middle" fill="#1a1a1a">76.9 (46–93.8)</text>
<text x="460.0" y="374.0" font-size="6.15" stroke="#1a1a1a" stroke-width="0.14" text-anchor="middle" fill="#1a1a1a">0.76 (0.15–4.27)</text>
<text x="510.1" y="374.0" font-size="6.15" stroke="#1a1a1a" stroke-width="0.14" text-anchor="end" fill="#1a1a1a">0.74</text>
<text x="340.3" y="419.85" font-size="6.15" stroke="#1a1a1a" stroke-width="0.14" text-anchor="middle" fill="#1a1a1a">13/15</text>
<text x="406.4" y="419.85" font-size="6.15" stroke="#1a1a1a" stroke-width="0.14" text-anchor="middle" fill="#1a1a1a">86.7 (58.4–97.7)</text>
<text x="460.0" y="420.0" font-size="6.0" stroke="#1a1a1a" stroke-width="0.14" text-anchor="middle" fill="#1a1a1a">Ref.</text>
<text x="340.3" y="427.6" font-size="6.15" stroke="#1a1a1a" stroke-width="0.14" text-anchor="middle" fill="#1a1a1a">30/44</text>
<text x="406.4" y="427.6" font-size="6.15" stroke="#1a1a1a" stroke-width="0.14" text-anchor="middle" fill="#1a1a1a">68.2 (52.3–80.9)</text>
<text x="460.0" y="427.75" font-size="6.15" stroke="#1a1a1a" stroke-width="0.14" text-anchor="middle" fill="#1a1a1a">0.33 (0.05–1.41)</text>
<text x="510.1" y="427.75" font-size="6.15" stroke="#1a1a1a" stroke-width="0.14" text-anchor="end" fill="#1a1a1a">0.18</text>
<text x="340.3" y="451.1" font-size="6.15" stroke="#1a1a1a" stroke-width="0.14" text-anchor="middle" fill="#1a1a1a">31/42</text>
<text x="406.4" y="449.85" font-size="6.15" stroke="#1a1a1a" stroke-width="0.14" text-anchor="middle" fill="#1a1a1a">73.8 (57.7–85.6)</text>
<text x="460.0" y="449.9" font-size="6.0" stroke="#1a1a1a" stroke-width="0.14" text-anchor="middle" fill="#1a1a1a">Ref.</text>
<text x="340.3" y="458.85" font-size="6.15" stroke="#1a1a1a" stroke-width="0.14" text-anchor="middle" fill="#1a1a1a">12/17</text>
<text x="406.4" y="458.1" font-size="6.15" stroke="#1a1a1a" stroke-width="0.14" text-anchor="middle" fill="#1a1a1a">70.6 (44–88.6)</text>
<text x="460.0" y="457.4" font-size="6.15" stroke="#1a1a1a" stroke-width="0.14" text-anchor="middle" fill="#1a1a1a">0.85 (0.25–3.17)</text>
<text x="510.1" y="457.4" font-size="6.15" stroke="#1a1a1a" stroke-width="0.14" text-anchor="end" fill="#1a1a1a">0.8</text>
<text x="340.3" y="481.1" font-size="6.15" stroke="#1a1a1a" stroke-width="0.14" text-anchor="middle" fill="#1a1a1a">27/33</text>
<text x="406.4" y="480.6" font-size="6.15" stroke="#1a1a1a" stroke-width="0.14" text-anchor="middle" fill="#1a1a1a">81.8 (63.9–92.4)</text>
<text x="460.0" y="481.3" font-size="6.0" stroke="#1a1a1a" stroke-width="0.14" text-anchor="middle" fill="#1a1a1a">Ref.</text>
<text x="340.3" y="488.85" font-size="6.15" stroke="#1a1a1a" stroke-width="0.14" text-anchor="middle" fill="#1a1a1a">10/18</text>
<text x="406.4" y="488.6" font-size="6.15" stroke="#1a1a1a" stroke-width="0.14" text-anchor="middle" fill="#1a1a1a">55.6 (31.3–77.6)</text>
<text x="460.0" y="488.5" font-size="6.15" stroke="#1a1a1a" stroke-width="0.14" text-anchor="middle" fill="#1a1a1a">0.28 (0.07–0.99)</text>
<text x="510.1" y="488.5" font-size="6.3" font-weight="bold" text-anchor="end" fill="#000" stroke="#000" stroke-width="0.15" transform="matrix(1 0 0 1.1 0 -48.850)">0.05</text>
<text x="340.3" y="505.1" font-size="6.15" stroke="#1a1a1a" stroke-width="0.14" text-anchor="middle" fill="#1a1a1a">4/8</text>
<text x="406.4" y="504.85" font-size="6.15" stroke="#1a1a1a" stroke-width="0.14" text-anchor="middle" fill="#1a1a1a">50 (21.5–78.5)</text>
<text x="460.0" y="505.3" font-size="6.0" stroke="#1a1a1a" stroke-width="0.14" text-anchor="middle" fill="#1a1a1a">Ref.</text>
<text x="340.3" y="512.6" font-size="6.15" stroke="#1a1a1a" stroke-width="0.14" text-anchor="middle" fill="#1a1a1a">34/45</text>
<text x="406.4" y="512.6" font-size="6.15" stroke="#1a1a1a" stroke-width="0.14" text-anchor="middle" fill="#1a1a1a">75.6 (60.1–86.6)</text>
<text x="460.0" y="513.1" font-size="6.15" stroke="#1a1a1a" stroke-width="0.14" text-anchor="middle" fill="#1a1a1a">3.09 (0.64–15.2)</text>
<text x="508.4" y="513.1" font-size="6.15" stroke="#1a1a1a" stroke-width="0.14" text-anchor="end" fill="#1a1a1a">0.15</text>
<text x="340.3" y="533.6" font-size="6.15" stroke="#1a1a1a" stroke-width="0.14" text-anchor="middle" fill="#1a1a1a">4/9</text>
<text x="406.4" y="533.1" font-size="6.15" stroke="#1a1a1a" stroke-width="0.14" text-anchor="middle" fill="#1a1a1a">44.4 (15.3–77.3)</text>
<text x="460.0" y="533.2" font-size="6.0" stroke="#1a1a1a" stroke-width="0.14" text-anchor="middle" fill="#1a1a1a">Ref.</text>
<text x="340.3" y="551.35" font-size="6.15" stroke="#1a1a1a" stroke-width="0.14" text-anchor="middle" fill="#1a1a1a">34/44</text>
<text x="406.4" y="539.85" font-size="6.15" stroke="#1a1a1a" stroke-width="0.14" text-anchor="middle" fill="#1a1a1a">77.3 (61.8–88)</text>
<text x="460.0" y="540.8" font-size="6.15" stroke="#1a1a1a" stroke-width="0.14" text-anchor="middle" fill="#1a1a1a">4.17 (0.96–20.3)</text>
<text x="508.8" y="540.8" font-size="6.3" font-weight="bold" text-anchor="end" fill="#000" stroke="#000" stroke-width="0.15" transform="matrix(1 0 0 1.1 0 -54.080)">0.05</text>
<text x="340.3" y="562.35" font-size="6.15" stroke="#1a1a1a" stroke-width="0.14" text-anchor="middle" fill="#1a1a1a">10/14</text>
<text x="406.4" y="561.35" font-size="6.15" stroke="#1a1a1a" stroke-width="0.14" text-anchor="middle" fill="#1a1a1a">71.4 (42–90.4)</text>
<text x="460.0" y="561.9" font-size="6.0" stroke="#1a1a1a" stroke-width="0.14" text-anchor="middle" fill="#1a1a1a">Ref.</text>
<text x="340.3" y="570.6" font-size="6.15" stroke="#1a1a1a" stroke-width="0.14" text-anchor="middle" fill="#1a1a1a">28/39</text>
<text x="406.4" y="569.85" font-size="6.15" stroke="#1a1a1a" stroke-width="0.14" text-anchor="middle" fill="#1a1a1a">71.8 (54.9–84.4)</text>
<text x="460.0" y="569.7" font-size="6.15" stroke="#1a1a1a" stroke-width="0.14" text-anchor="middle" fill="#1a1a1a">1.02 (0.24–3.78)</text>
<text x="507.2" y="569.7" font-size="6.15" stroke="#1a1a1a" stroke-width="0.14" text-anchor="end" fill="#1a1a1a">0.98</text>
<text x="340.3" y="594.35" font-size="6.15" stroke="#1a1a1a" stroke-width="0.14" text-anchor="middle" fill="#1a1a1a">29/34</text>
<text x="406.4" y="593.6" font-size="6.15" stroke="#1a1a1a" stroke-width="0.14" text-anchor="middle" fill="#1a1a1a">85.3 (68.2–94.4)</text>
<text x="460.0" y="593.3" font-size="6.0" stroke="#1a1a1a" stroke-width="0.14" text-anchor="middle" fill="#1a1a1a">Ref.</text>
<text x="340.3" y="601.35" font-size="6.15" stroke="#1a1a1a" stroke-width="0.14" text-anchor="middle" fill="#1a1a1a">11/21</text>
<text x="406.4" y="600.6" font-size="6.15" stroke="#1a1a1a" stroke-width="0.14" text-anchor="middle" fill="#1a1a1a">52.4 (30.3–73.6)</text>
<text x="460.0" y="599.8" font-size="6.15" stroke="#1a1a1a" stroke-width="0.14" text-anchor="middle" fill="#1a1a1a">0.19 (0.05–0.65)</text>
<text x="502.1" y="599.8" font-size="6.3" font-weight="bold" text-anchor="middle" fill="#000" stroke="#000" stroke-width="0.15" transform="matrix(1 0 0 1.1 0 -59.980)">0.02</text>
<text x="340.3" y="608.85" font-size="6.15" stroke="#1a1a1a" stroke-width="0.14" text-anchor="middle" fill="#1a1a1a">3/4</text>
<text x="406.4" y="608.1" font-size="6.15" stroke="#1a1a1a" stroke-width="0.14" text-anchor="middle" fill="#1a1a1a">75 (21.9–98.7)</text>
<text x="460.0" y="608.5" font-size="6.15" stroke="#1a1a1a" stroke-width="0.14" text-anchor="middle" fill="#1a1a1a">0.52 (0.05–11.6)</text>
<text x="502.0" y="608.5" font-size="6.15" stroke="#1a1a1a" stroke-width="0.14" text-anchor="middle" fill="#1a1a1a">0.6</text>
<rect x="102" y="616.5" width="204.8" height="1.5" fill="#2a2a2a"/>
<rect x="102.00" y="617" width="1" height="3" fill="#2a2a2a"/>
<text x="102.50" y="628.9" font-size="7.6" text-anchor="middle" fill="#1a1a1a" stroke="#1a1a1a" stroke-width="0.25" transform="matrix(1 0 0 1.1 0 -62.890)">0</text>
<rect x="142.76" y="617" width="1" height="3" fill="#2a2a2a"/>
<text x="143.26" y="628.9" font-size="7.6" text-anchor="middle" fill="#1a1a1a" stroke="#1a1a1a" stroke-width="0.25" transform="matrix(1 0 0 1.1 0 -62.890)">20</text>
<rect x="183.52" y="617" width="1" height="3" fill="#2a2a2a"/>
<text x="184.02" y="628.9" font-size="7.6" text-anchor="middle" fill="#1a1a1a" stroke="#1a1a1a" stroke-width="0.25" transform="matrix(1 0 0 1.1 0 -62.890)">40</text>
<rect x="224.28" y="617" width="1" height="3" fill="#2a2a2a"/>
<text x="224.78" y="628.9" font-size="7.6" text-anchor="middle" fill="#1a1a1a" stroke="#1a1a1a" stroke-width="0.25" transform="matrix(1 0 0 1.1 0 -62.890)">60</text>
<rect x="265.04" y="617" width="1" height="3" fill="#2a2a2a"/>
<text x="265.54" y="628.9" font-size="7.6" text-anchor="middle" fill="#1a1a1a" stroke="#1a1a1a" stroke-width="0.25" transform="matrix(1 0 0 1.1 0 -62.890)">80</text>
<rect x="305.80" y="617" width="1" height="3" fill="#2a2a2a"/>
<text x="306.30" y="628.9" font-size="7.6" text-anchor="middle" fill="#1a1a1a" stroke="#1a1a1a" stroke-width="0.25" transform="matrix(1 0 0 1.1 0 -62.890)">100</text>
<text transform="translate(171.2 639.8) scale(0.76 1)" font-size="8.2" fill="#1a1a1a" stroke="#1a1a1a" stroke-width="0.3">Percentage of response</text>
<rect x="0" y="0" width="520" height="1" fill="#000"/>
<rect x="0" y="0" width="1" height="646" fill="#000"/>
<rect x="519" y="0" width="1" height="646.5" fill="#000"/>
<rect x="0" y="645" width="520" height="1.6" fill="#3a3a3a"/>
</g>
</svg>
</body></html>
